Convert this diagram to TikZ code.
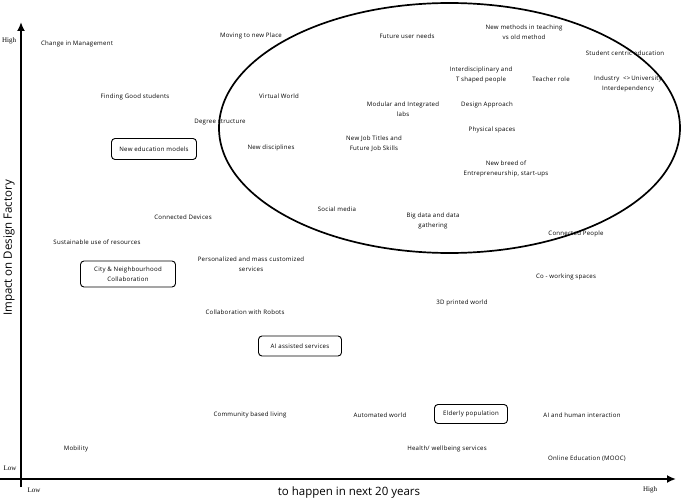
\documentclass[tikz,border=0pt]{standalone}
\usepackage{fontspec}
\setmainfont{Open Sans}
\newfontfamily\trendfont[LetterSpace=4]{Open Sans}
\newfontfamily\scalefont{Liberation Serif}
\usetikzlibrary{arrows.meta}
\tikzstyle{trend}=[font=\trendfont\fontsize{6.1}{9.5}\selectfont, align=center, inner sep=1pt]
\tikzstyle{boxed trend}=[trend, draw, rounded corners=3.5pt, line width=0.9pt]
\tikzstyle{axis}=[line width=2.6pt, -{Latex[length=9pt,width=8pt]}]
\tikzstyle{axis title}=[font=\fontsize{11.5}{13}\selectfont, inner sep=0pt]
\tikzstyle{scale label}=[font=\scalefont\fontsize{7}{8}\selectfont, inner sep=0pt]
\newcommand{\trendnode}[4][]{
  \node [trend, #1] (#2) at (#3) {#4}
}

\begin{document}
\begin{tikzpicture}[x=1pt,y=-1pt]
        \useasboundingbox (0,0) rectangle (685,500);
        % axes
        \coordinate (origin) at (21,487);
        \coordinate (ytop) at (21,22);
        \coordinate (xleft) at (0,479);
        \coordinate (xright) at (676,479);
        \draw[axis] (origin) -- (ytop);
        \draw[axis] (xleft) -- (xright);
        \node[axis title, rotate=90] (ylabel) at (9,248) {Impact on Design Factory};
        \node[axis title] (xlabel) at (349,493) {to happen in next 20 years};
        \node[scale label] (yhigh) at (9,41) {High};
        \node[scale label] (ylow) at (10,468) {Low};
        \node[scale label] (xlow) at (34,490) {Low};
        \node[scale label] (xhigh) at (650,490) {High};
        % the cluster
        \draw[line width=1.7pt] (449.5,128) ellipse [x radius=230.5pt, y radius=125pt];

        \trendnode{mgmt}{77,44}{Change in Management};
        \trendnode{place}{251,36}{Moving to new Place};
        \trendnode{userneeds}{407,36}{Future user needs};
        \trendnode{methods}{524,32}{New methods in teaching\\vs old method};
        \trendnode{student}{625,53}{Student centric education};
        \trendnode{tshaped}{481,75}{Interdisciplinary and\\T shaped people};
        \trendnode{teacher}{551,79}{Teacher role};
        \trendnode{industry}{628,84}{Industry \ <>\,University\\Interdependency};
        \trendnode{goodstud}{135,97}{Finding Good students};
        \trendnode{virtual}{279,96}{Virtual World};
        \trendnode{labs}{403,109}{Modular and Integrated\\labs};
        \trendnode{approach}{487,105}{Design Approach};
        \trendnode{degree}{220,122}{Degree structure};
        \trendnode{physical}{492,130}{Physical spaces};
        \trendnode[boxed trend, minimum width=85pt, minimum height=21pt]{edumodels}{154,149}{New education models};
        \trendnode{disciplines}{271,148}{New disciplines};
        \trendnode{jobtitles}{374,144}{New Job Titles and\\Future Job Skills};
        \trendnode{startups}{506,169}{New breed of\\Entrepreneurship, start-ups};
        \trendnode{devices}{183,217}{Connected Devices};
        \trendnode{social}{337,209}{Social media};
        \trendnode{bigdata}{433,221}{Big data and data\\gathering};
        \trendnode{people}{576,234}{Connected People};
        \trendnode{sustain}{97,242}{Sustainable use of resources};
        \trendnode[boxed trend, minimum width=95pt, minimum height=26pt]{city}{128,274}{City \& Neighbourhood\\Collaboration};
        \trendnode{personal}{251,264}{Personalized and mass customized\\services};
        \trendnode{cowork}{566,277}{Co - working spaces};
        \trendnode{printed}{462,303}{3D printed world};
        \trendnode{robots}{245,312}{Collaboration with Robots};
        \trendnode[boxed trend, minimum width=83pt, minimum height=20pt]{aiservices}{300,346}{AI assisted services};
        \trendnode{community}{250,415}{Community based living};
        \trendnode{automated}{380,415}{Automated world};
        \trendnode[boxed trend, minimum width=73pt, minimum height=19pt]{elderly}{471,414}{Elderly population};
        \trendnode{aihuman}{582,415}{AI and human interaction};
        \trendnode{mobility}{76,449}{Mobility};
        \trendnode{health}{447,449}{Health/ wellbeing services};
        \trendnode{mooc}{587,459}{Online Education (MOOC)};
\end{tikzpicture}
\end{document}
